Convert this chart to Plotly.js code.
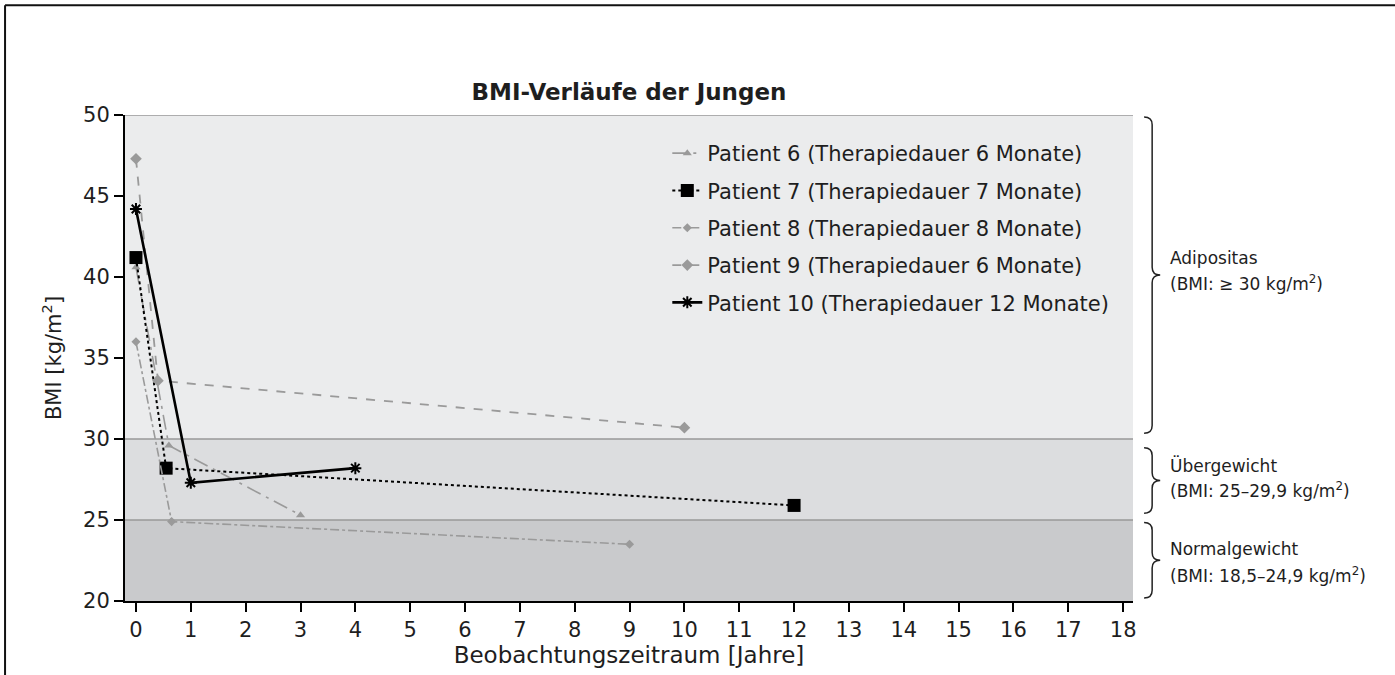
<!DOCTYPE html>
<html>
<head>
<meta charset="utf-8">
<script src="https://cdn.plot.ly/plotly-3.0.1.min.js"></script>
<style>body{margin:0;background:#fff;} #chart{width:1395px;height:675px;}</style>
</head>
<body>
<div id="chart"></div>
<script>
// Data
const p6x = [0, 0.6, 3];      const p6y = [40.6, 29.6, 25.3];
const p7x = [0, 0.55, 12];    const p7y = [41.2, 28.2, 25.9];
const p8x = [0, 0.65, 9];     const p8y = [36.0, 24.9, 23.5];
const p9x = [0, 0.4, 10];     const p9y = [47.3, 33.6, 30.7];
const p10x = [0, 1, 4];       const p10y = [44.2, 27.3, 28.2];
const names = [
  'Patient 6 (Therapiedauer 6 Monate)',
  'Patient 7 (Therapiedauer 7 Monate)',
  'Patient 8 (Therapiedauer 8 Monate)',
  'Patient 9 (Therapiedauer 6 Monate)',
  'Patient 10 (Therapiedauer 12 Monate)'
];
const xTicks = [0,1,2,3,4,5,6,7,8,9,10,11,12,13,14,15,16,17,18];
const yTicks = [20,25,30,35,40,45,50];
const bands = [[30,50,'#ebeced'],[25,30,'#dcdddf'],[20,25,'#c9cacc']];
const bandLines = [25,30,50];
const categories = [
  ['Adipositas','(BMI: ≥ 30 kg/m<sup>2</sup>)', 30, 50],
  ['Übergewicht','(BMI: 25–29,9 kg/m<sup>2</sup>)', 25, 30],
  ['Normalgewicht','(BMI: 18,5–24,9 kg/m<sup>2</sup>)', 20, 25]
];

const FONT = 'DejaVu Sans, Liberation Sans, sans-serif';
const TXT = '#1e1e1e';
const GRAY = '#9a9a9a';

const traces = [
  {x:p6x,y:p6y,name:names[0],legendgroup:'a',mode:'lines+markers',
   line:{color:GRAY,width:1.6,dash:'longdashdot'},marker:{symbol:'triangle-up',size:8,color:GRAY}},
  {x:p7x,y:p7y,name:names[1],legendgroup:'b',mode:'lines+markers',
   line:{color:'#000',width:2,dash:'dot'},marker:{symbol:'square',size:13,color:'#000'}},
  {x:p8x,y:p8y,name:names[2],legendgroup:'c',mode:'lines+markers',
   line:{color:GRAY,width:1.6,dash:'dashdot'},marker:{symbol:'diamond',size:7,color:GRAY}},
  {x:p9x,y:p9y,name:names[3],legendgroup:'d',mode:'lines+markers',
   line:{color:GRAY,width:1.8,dash:'dash'},marker:{symbol:'diamond',size:9,color:GRAY}},
  {x:p10x,y:p10y,name:names[4],legendgroup:'e',mode:'lines+markers',
   line:{color:'#000',width:2.6},marker:{symbol:'asterisk-open',size:10,color:'#000',line:{width:2,color:'#000'}}}
];

const shapes = [];
bands.forEach(b => shapes.push({type:'rect',xref:'paper',yref:'y',x0:0,x1:1,y0:b[0],y1:b[1],
  fillcolor:b[2],line:{width:0},layer:'below'}));
bandLines.forEach(v => shapes.push({type:'line',xref:'paper',yref:'y',x0:0,x1:1,y0:v,y1:v,
  line:{color:'#999',width:1.5},layer:'below'}));

// braces (paper coordinates)
function ypap(v){ return (v-20)/30; }
const bx0 = 1.011, bx1 = 1.019, bx2 = 1.027, d = 0.016;
const braceSpans = [[ypap(50)-0.004, ypap(30)+0.012],[ypap(30)-0.018, ypap(25)+0.014],[ypap(25)-0.005, ypap(20)+0.006]];
braceSpans.forEach(s => {
  const t = s[0], b = s[1], m = (t+b)/2;
  const p = `M ${bx0},${t} Q ${bx1},${t} ${bx1},${t-d} L ${bx1},${m+d} Q ${bx1},${m} ${bx2},${m} `+
            `Q ${bx1},${m} ${bx1},${m-d} L ${bx1},${b+d} Q ${bx1},${b} ${bx0},${b}`;
  shapes.push({type:'path',xref:'paper',yref:'paper',path:p,line:{color:'#222',width:1.5}});
});
// outer frame (top and left)
shapes.push({type:'line',xref:'paper',yref:'paper',x0:-0.119,x1:1.3,y0:1.226,y1:1.226,line:{color:'#111',width:2}});
shapes.push({type:'line',xref:'paper',yref:'paper',x0:-0.119,x1:-0.119,y0:1.226,y1:-0.2,line:{color:'#111',width:2}});

const annotations = [];
const labelY = [[0.706,0.654],[0.278,0.228],[0.107,0.054]];
categories.forEach((c,i) => {
  annotations.push({xref:'paper',yref:'paper',x:1.035,y:labelY[i][0],xanchor:'left',yanchor:'middle',
    text:c[0],showarrow:false,font:{family:FONT,size:17,color:TXT}});
  annotations.push({xref:'paper',yref:'paper',x:1.035,y:labelY[i][1],xanchor:'left',yanchor:'middle',
    text:c[1],showarrow:false,font:{family:FONT,size:17,color:TXT}});
});

const layout = {
  width:1395,height:675,
  margin:{l:125,r:262,t:115,b:74},
  paper_bgcolor:'#fff',plot_bgcolor:'#fff',
  title:{text:'<b>BMI-Verläufe der Jungen</b>',x:0.5,xref:'paper',xanchor:'center',y:0.864,yanchor:'middle',
    font:{family:FONT,size:23,color:TXT}},
  xaxis:{range:[-0.2,18.18],tickvals:xTicks,ticktext:xTicks.map(String),showgrid:false,zeroline:false,
    showline:true,linecolor:'#000',linewidth:2,ticks:'outside',ticklen:9,tickwidth:2,tickcolor:'#000',
    tickfont:{family:FONT,size:21,color:TXT},
    title:{text:'Beobachtungszeitraum [Jahre]',standoff:2,font:{family:FONT,size:23,color:TXT}}},
  yaxis:{range:[20,50],tickvals:yTicks,ticktext:yTicks.map(String),showgrid:false,zeroline:false,
    showline:true,linecolor:'#000',linewidth:2,ticks:'outside',ticklen:9,tickwidth:2,tickcolor:'#000',
    tickfont:{family:FONT,size:21,color:TXT},
    title:{text:'BMI [kg/m<sup>2</sup>]',standoff:16,font:{family:FONT,size:21,color:TXT}}},
  legend:{x:0.538,y:0.963,xanchor:'left',yanchor:'top',bgcolor:'rgba(0,0,0,0)',
    traceorder:'grouped',tracegroupgap:7,font:{family:FONT,size:21,color:TXT}},
  shapes:shapes,annotations:annotations,showlegend:true
};

Plotly.newPlot('chart',traces,layout,{displayModeBar:false,staticPlot:true});
</script>
</body>
</html>
